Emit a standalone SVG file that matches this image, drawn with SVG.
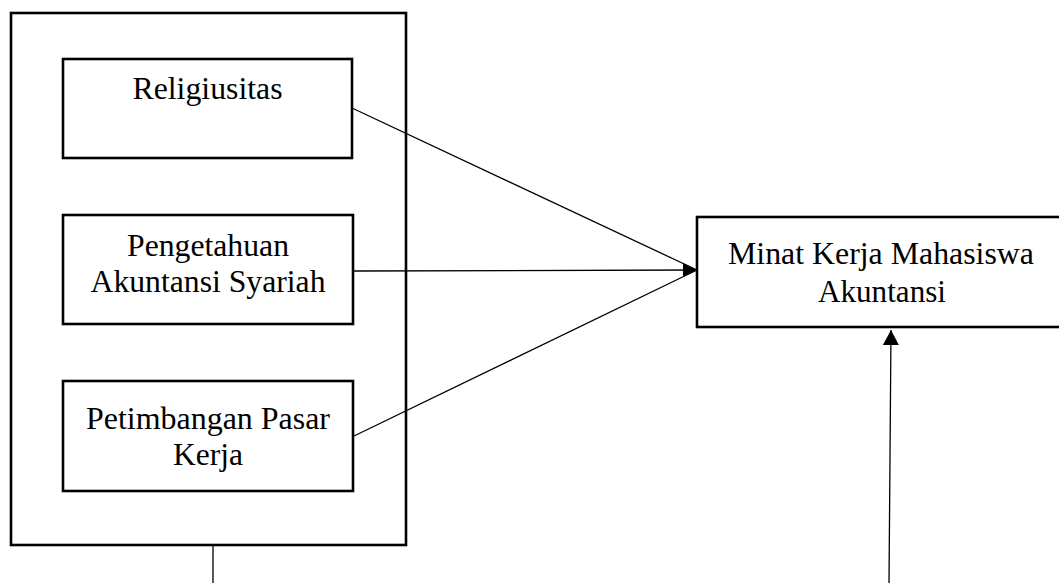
<svg xmlns="http://www.w3.org/2000/svg" width="1059" height="583" viewBox="0 0 1059 583">
  <style>
    .box { fill: #ffffff; stroke: #000000; stroke-width: 2.6; }
    .conn { fill: none; stroke: #000000; stroke-width: 1.3; }
    .lbl { font-family: 'Liberation Serif', 'Times New Roman', Times, serif; font-size: 31px; fill: #000000; text-anchor: middle; }
  </style>
  <defs>
    <marker id="arrow" viewBox="0 0 14 14" refX="14" refY="7" markerWidth="14" markerHeight="14" markerUnits="userSpaceOnUse" orient="auto">
      <path d="M0,0 L14,7 L0,14 Z" fill="#000000"/>
    </marker>
    <marker id="arrowUp" viewBox="0 0 15 16" refX="15" refY="8" markerWidth="15" markerHeight="16" markerUnits="userSpaceOnUse" orient="auto">
      <path d="M0,0 L15,8 L0,16 Z" fill="#000000"/>
    </marker>
  </defs>

  <g id="outer-group">
    <rect class="box" x="11" y="13" width="395" height="532"/>
  </g>

  <g id="node-religiusitas">
    <rect class="box" x="63" y="59" width="289" height="99"/>
    <text class="lbl" x="207.5" y="99" textLength="150" lengthAdjust="spacingAndGlyphs">Religiusitas</text>
  </g>

  <g id="node-pengetahuan">
    <rect class="box" x="63" y="215" width="290" height="109"/>
    <text class="lbl" x="208" y="256" textLength="162" lengthAdjust="spacingAndGlyphs">Pengetahuan</text>
    <text class="lbl" x="208" y="292" textLength="235" lengthAdjust="spacingAndGlyphs">Akuntansi Syariah</text>
  </g>

  <g id="node-petimbangan">
    <rect class="box" x="63" y="381" width="290" height="110"/>
    <text class="lbl" x="208" y="429" textLength="244" lengthAdjust="spacingAndGlyphs">Petimbangan Pasar</text>
    <text class="lbl" x="208" y="465" textLength="70" lengthAdjust="spacingAndGlyphs">Kerja</text>
  </g>

  <g id="node-minat">
    <rect class="box" x="697" y="217" width="366" height="110"/>
    <text class="lbl" x="881" y="264" textLength="306" lengthAdjust="spacingAndGlyphs">Minat Kerja Mahasiswa</text>
    <text class="lbl" x="882" y="302" textLength="128" lengthAdjust="spacingAndGlyphs">Akuntansi</text>
  </g>

  <g id="connectors">
    <line class="conn" x1="352" y1="108" x2="697" y2="270"/>
    <line class="conn" x1="354" y1="271" x2="697" y2="270" marker-end="url(#arrow)"/>
    <line class="conn" x1="354" y1="436" x2="697" y2="270"/>
    <line class="conn" x1="213" y1="545" x2="213" y2="583"/>
    <line class="conn" x1="889" y1="583" x2="891" y2="330" marker-end="url(#arrowUp)"/>
  </g>
</svg>
